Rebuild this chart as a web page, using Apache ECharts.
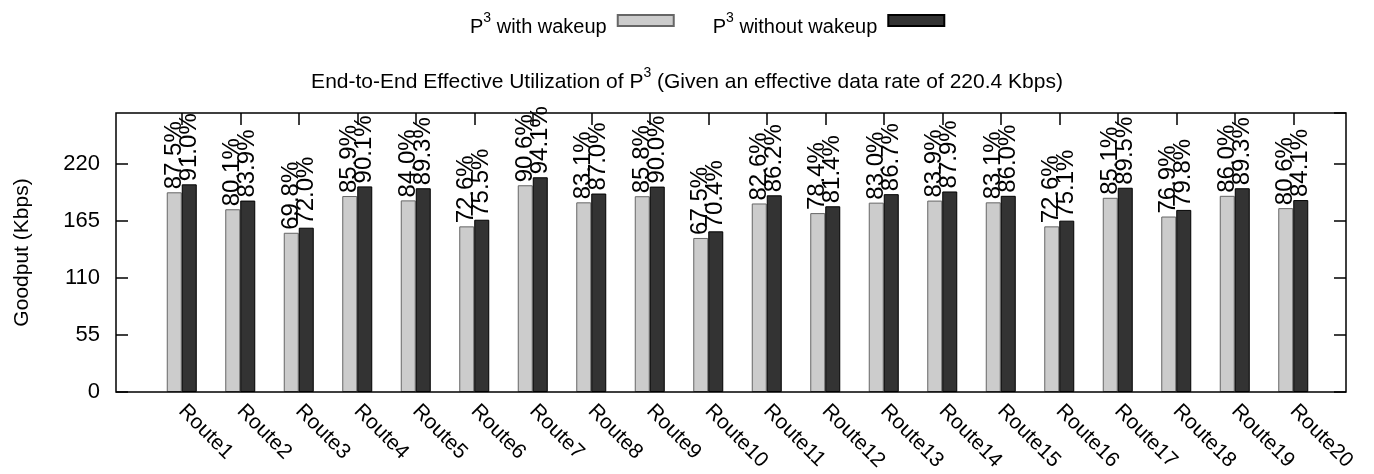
<!DOCTYPE html>
<html><head><meta charset="utf-8">
<script src="https://cdn.jsdelivr.net/npm/echarts@6/dist/echarts.min.js"></script>
<style>html,body{margin:0;padding:0;background:#fff}#c{width:1374px;height:474px}</style>
</head><body><div id="c"></div>
<script>
const categories = ['Route1','Route2','Route3','Route4','Route5','Route6','Route7','Route8','Route9','Route10','Route11','Route12','Route13','Route14','Route15','Route16','Route17','Route18','Route19','Route20'];
const withWakeup = [192.9,176.5,153.8,189.3,185.1,160.0,199.7,183.2,189.1,148.8,182.1,172.8,182.9,184.9,183.2,160.0,187.6,169.5,189.5,177.6];
const withoutWakeup = [200.6,184.9,158.7,198.6,196.8,166.4,207.4,191.7,198.4,155.2,190.0,179.4,191.1,193.7,189.5,165.5,197.3,175.9,196.8,185.4];
// utilization labels
const withLabels = ['87.5%','80.1%','69.8%','85.9%','84.0%','72.6%','90.6%','83.1%','85.8%','67.5%','82.6%','78.4%','83.0%','83.9%','83.1%','72.6%','85.1%','76.9%','86.0%','80.6%'];
const withoutLabels = ['91.0%','83.9%','72.0%','90.1%','89.3%','75.5%','94.1%','87.0%','90.0%','70.4%','86.2%','81.4%','86.7%','87.9%','86.0%','75.1%','89.5%','79.8%','89.3%','84.1%'];
const yTicks = [0,55,110,165,220];

const FONT = 'Liberation Sans';
const YMAX = 269.5;
const chart = echarts.init(document.getElementById('c'), null, {renderer:'canvas'});

const frame = {left:116, right:28, top:113, bottom:82};
const inner = {left:152.5, right:51.5, top:113, bottom:82};

function barLabel(labels){
  return {
    show:true, position:'top', rotate:90, align:'left', verticalAlign:'middle', distance:3,
    fontFamily:FONT, fontSize:24, color:'#000',
    formatter:p=>labels[p.dataIndex]
  };
}

chart.setOption({
  animation:false,
  backgroundColor:'#fff',
  textStyle:{fontFamily:FONT},
  title:{
    text:'{n|End-to-End Effective Utilization of P}{s|3}{n| (Given an effective data rate of 220.4 Kbps)}',
    left:'center', top:61.5,
    textStyle:{fontWeight:'normal', rich:{
      n:{fontFamily:FONT,fontSize:21,fontWeight:'normal',color:'#000',verticalAlign:'bottom',lineHeight:26},
      s:{fontFamily:FONT,fontSize:14,fontWeight:'normal',color:'#000',verticalAlign:'top',lineHeight:26,padding:[0,0,8,0]}
    }}
  },
  legend:{
    top:11, left:470, padding:0, itemGap:38, itemWidth:56, itemHeight:11, align:'right', icon:'rect',
    data:['with','without'],
    formatter:n=> n==='with' ? '{n|P}{s|3}{n| with wakeup}{g|}' : '{n|P}{s|3}{n| without wakeup}{g|}',
    textStyle:{padding:[7,0,0,0], rich:{
      n:{fontFamily:FONT,fontSize:20,color:'#000',verticalAlign:'bottom',lineHeight:26},
      s:{fontFamily:FONT,fontSize:14,color:'#000',verticalAlign:'top',lineHeight:26,padding:[0,0,8,0]},
      g:{width:6}
    }}
  },
  grid:[
    Object.assign({show:true, borderColor:'#000', borderWidth:1.5, backgroundColor:'transparent', z:10}, frame),
    Object.assign({show:false}, inner)
  ],
  xAxis:[
    {gridIndex:0, type:'value', min:0, max:1, show:false},
    {gridIndex:1, type:'category', data:categories, position:'bottom',
      axisLine:{show:false}, axisTick:{show:false},
      axisLabel:{interval:0, rotate:-45, margin:16, fontFamily:FONT, fontSize:21, color:'#000'}},
    {gridIndex:1, type:'category', data:categories, position:'top',
      axisLine:{show:false}, axisLabel:{show:false},
      axisTick:{show:true, inside:true, length:12, alignWithLabel:true, interval:0, lineStyle:{color:'#000',width:1.5}}}
  ],
  yAxis:[
    {gridIndex:0, type:'value', min:0, max:YMAX, interval:55, position:'left',
      axisLine:{show:false}, splitLine:{show:false},
      axisTick:{show:true, inside:true, length:12, lineStyle:{color:'#000',width:1.5}},
      axisLabel:{showMaxLabel:false, margin:16, fontFamily:FONT, fontSize:22, color:'#000',
        formatter:v=> yTicks.includes(v) ? String(v) : ''},
      name:'Goodput (Kbps)', nameLocation:'middle', nameGap:83, nameRotate:90,
      nameTextStyle:{fontFamily:FONT, fontSize:21, color:'#000'}},
    {gridIndex:0, type:'value', min:0, max:YMAX, interval:55, position:'right',
      axisLine:{show:false}, splitLine:{show:false}, axisLabel:{show:false},
      axisTick:{show:true, inside:true, length:12, lineStyle:{color:'#000',width:1.5}}},
    {gridIndex:1, type:'value', min:0, max:YMAX, show:false}
  ],
  series:[
    {name:'with', type:'bar', xAxisIndex:1, yAxisIndex:2, data:withWakeup, barWidth:15, barGap:'0%',
      itemStyle:{color:'#cccccc', borderColor:'#666666', borderWidth:1}, label:barLabel(withLabels)},
    {name:'without', type:'bar', xAxisIndex:1, yAxisIndex:2, data:withoutWakeup, barWidth:15, barGap:'0%',
      itemStyle:{color:'#333333', borderColor:'#000000', borderWidth:1}, label:barLabel(withoutLabels)}
  ]
});
</script></body></html>
